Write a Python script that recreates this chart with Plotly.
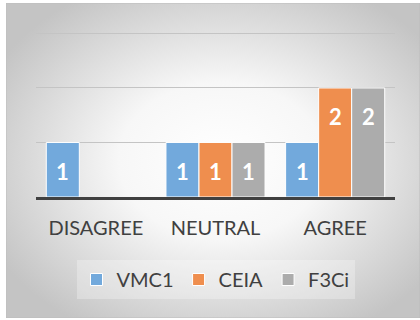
import base64
import plotly.graph_objects as go

# Survey responses per system
categories = ["DISAGREE", "NEUTRAL", "AGREE"]
series_names = ["VMC1", "CEIA", "F3Ci"]
vmc1 = [1, 1, 1]
ceia = [None, 1, 2]
f3ci = [None, 1, 2]
series_values = [vmc1, ceia, f3ci]
colors = ["#72a9dc", "#ef8e4e", "#acacac"]

FONT = "Lato"
bar_w = 0.276
offsets = [-1.5 * bar_w, -0.5 * bar_w, 0.5 * bar_w]

fig = go.Figure()
for name, vals, col, off in zip(series_names, series_values, colors, offsets):
    fig.add_trace(go.Bar(
        x=categories, y=vals, name=name,
        width=bar_w, offset=off,
        marker=dict(color=col, line=dict(color="white", width=1)),
    ))
    # value labels sit just inside the top of each bar
    for i, v in enumerate(vals):
        if v is None:
            continue
        fig.add_annotation(
            x=i + off + bar_w / 2, y=v, xref="x", yref="y",
            text=f"<b>{v}</b>", showarrow=False,
            yanchor="middle", yshift=-29,
            font=dict(family=FONT, size=22, color="white"),
        )

# soft radial backdrop for the chart area
svg = (
    '<svg xmlns="http://www.w3.org/2000/svg" width="414" height="315" '
    'preserveAspectRatio="none" viewBox="0 0 414 315">'
    '<defs><radialGradient id="g" cx="52%" cy="50%" r="62%">'
    '<stop offset="0" stop-color="#ffffff"/>'
    '<stop offset="0.4" stop-color="#f7f7f7"/>'
    '<stop offset="1" stop-color="#c4c4c4"/>'
    '</radialGradient></defs>'
    '<rect x="0" y="0" width="414" height="315" fill="url(#g)" '
    'stroke="#bdbdbd" stroke-width="1"/></svg>'
)
src = "data:image/svg+xml;base64," + base64.b64encode(svg.encode()).decode()

L, R, T, B = 36, 25, 28, 123
pw, ph = 420 - L - R, 320 - T - B
y_top = 3.1
fig.add_layout_image(
    source=src, xref="paper", yref="paper",
    x=(6 - L) / pw, y=1 + (T - 3) / ph,
    sizex=414 / pw, sizey=315 / ph,
    xanchor="left", yanchor="top", sizing="stretch", layer="below",
)

fig.update_layout(
    width=420, height=320,
    margin=dict(l=L, r=R, t=T, b=B),
    paper_bgcolor="white", plot_bgcolor="rgba(0,0,0,0)",
    barmode="overlay",
    showlegend=True,
    legend=dict(
        orientation="h", x=0.5, xanchor="center",
        y=(197 - 260) / ph, yanchor="top",
        bgcolor="rgba(255,255,255,0.28)",
        font=dict(family=FONT, size=20, color="#404040"),
        itemwidth=30, traceorder="normal",
    ),
    font=dict(family=FONT),
)
fig.update_xaxes(
    type="category", range=[-0.5, 2.5],
    showgrid=False, ticks="", showline=True, linecolor="#404040", linewidth=3,
    tickfont=dict(family=FONT, size=20, color="#404040"),
    ticklabelstandoff=11,
)
fig.update_yaxes(
    range=[0, y_top], tickvals=[1, 2, 3], showticklabels=False, zeroline=False,
    showgrid=True, gridcolor="#c4c4c4", gridwidth=1,
)

fig.write_html("out.html")
